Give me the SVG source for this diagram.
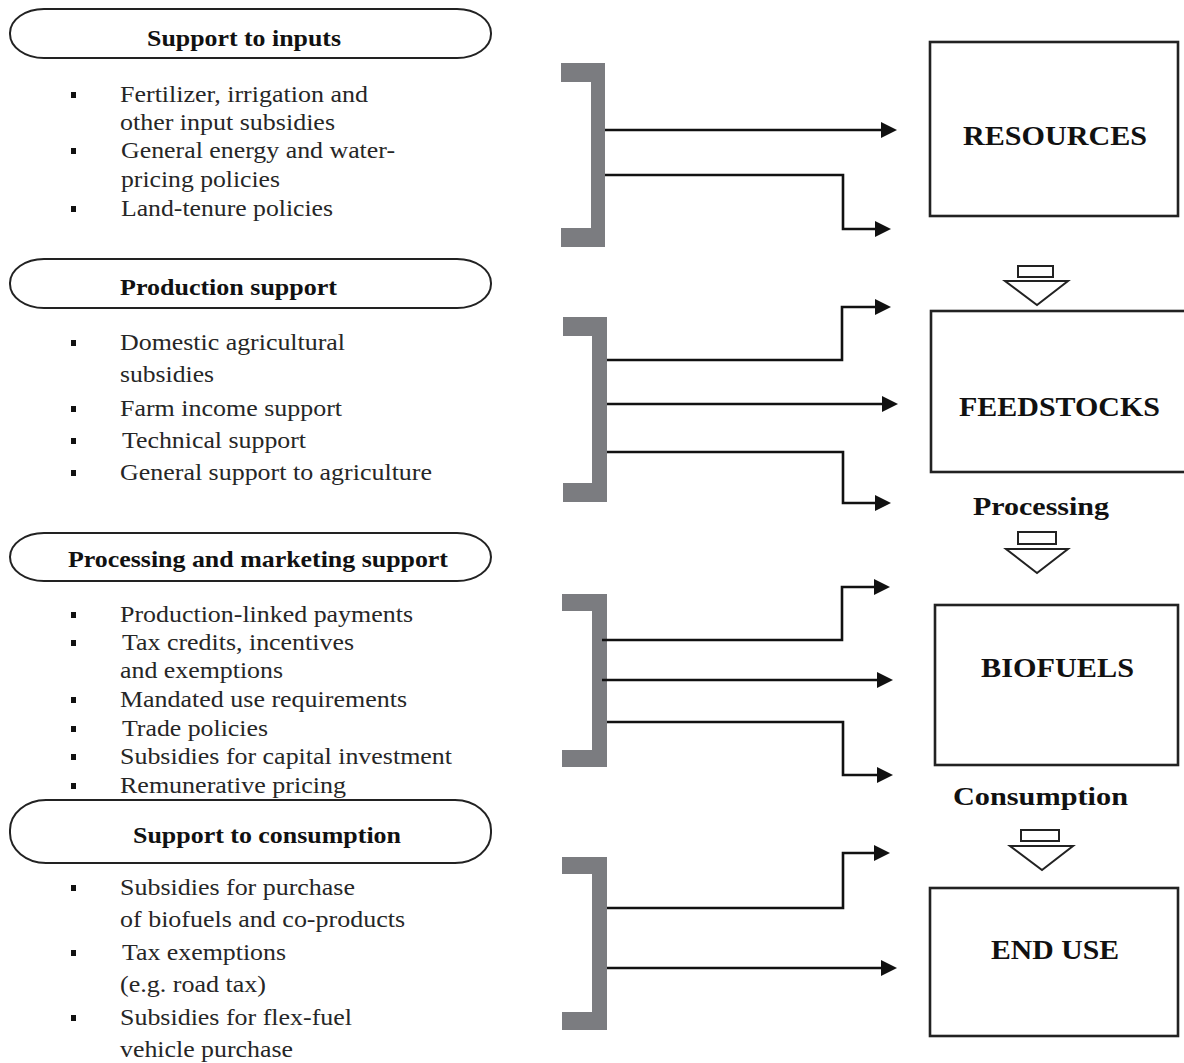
<svg xmlns="http://www.w3.org/2000/svg" width="1184" height="1063" viewBox="0 0 1184 1063">
<defs>
<marker id="ah" viewBox="0 0 16 16" refX="6" refY="8" markerWidth="16" markerHeight="16" markerUnits="userSpaceOnUse" orient="auto">
<path d="M0,0 L16,8 L0,16 Z" fill="#111"/>
</marker>
</defs>
<style>
.pill{fill:#fff;stroke:#222;stroke-width:2}
.head{font-family:"Liberation Serif",Tinos,"Times New Roman",Times,serif;font-weight:bold;font-size:24px;fill:#111}
.item{font-family:"Liberation Serif",Tinos,"Times New Roman",Times,serif;font-size:23px;fill:#262626}
.bul{fill:#111}
.brk{fill:#7b7c80}
.conn{fill:none;stroke:#111;stroke-width:2.6;marker-end:url(#ah)}
.box{fill:#fff;stroke:#222;stroke-width:2.6}
.btxt{font-family:"Liberation Serif",Tinos,"Times New Roman",Times,serif;font-weight:bold;font-size:27px;fill:#111}
.sym{fill:#fff;stroke:#222;stroke-width:2}
.lbl{font-family:"Liberation Serif",Tinos,"Times New Roman",Times,serif;font-weight:bold;font-size:26px;fill:#111}
</style>
<rect width="1184" height="1063" fill="#fff"/>

<g id="support-inputs">
<rect class="pill" x="10" y="9" width="481" height="49" rx="34" ry="24"/>
<text class="head" x="147" y="46" textLength="194" lengthAdjust="spacingAndGlyphs">Support to inputs</text>
<rect class="bul" x="71" y="92" width="5" height="6"/>
<rect class="bul" x="71" y="148" width="5" height="6"/>
<rect class="bul" x="71" y="206" width="5" height="6"/>
<text class="item" x="120" y="102" textLength="248" lengthAdjust="spacingAndGlyphs">Fertilizer, irrigation and</text>
<text class="item" x="120" y="130" textLength="215" lengthAdjust="spacingAndGlyphs">other input subsidies</text>
<text class="item" x="121" y="158" textLength="274" lengthAdjust="spacingAndGlyphs">General energy and water-</text>
<text class="item" x="121" y="187" textLength="159" lengthAdjust="spacingAndGlyphs">pricing policies</text>
<text class="item" x="121" y="216" textLength="212" lengthAdjust="spacingAndGlyphs">Land-tenure policies</text>
</g>

<g id="production-support">
<rect class="pill" x="10" y="259" width="481" height="49" rx="34" ry="24"/>
<text class="head" x="120" y="295" textLength="217" lengthAdjust="spacingAndGlyphs">Production support</text>
<rect class="bul" x="71" y="340" width="5" height="6"/>
<rect class="bul" x="71" y="406" width="5" height="6"/>
<rect class="bul" x="71" y="438" width="5" height="6"/>
<rect class="bul" x="71" y="470" width="5" height="6"/>
<text class="item" x="120" y="350" textLength="225" lengthAdjust="spacingAndGlyphs">Domestic agricultural</text>
<text class="item" x="120" y="382" textLength="94" lengthAdjust="spacingAndGlyphs">subsidies</text>
<text class="item" x="120" y="416" textLength="222" lengthAdjust="spacingAndGlyphs">Farm income support</text>
<text class="item" x="122" y="448" textLength="184" lengthAdjust="spacingAndGlyphs">Technical support</text>
<text class="item" x="120" y="480" textLength="312" lengthAdjust="spacingAndGlyphs">General support to agriculture</text>
</g>

<g id="processing-marketing">
<rect class="pill" x="10" y="533" width="481" height="48" rx="34" ry="24"/>
<text class="head" x="68" y="567" textLength="380" lengthAdjust="spacingAndGlyphs">Processing and marketing support</text>
<rect class="bul" x="71" y="612" width="5" height="6"/>
<rect class="bul" x="71" y="640" width="5" height="6"/>
<rect class="bul" x="71" y="697" width="5" height="6"/>
<rect class="bul" x="71" y="726" width="5" height="6"/>
<rect class="bul" x="71" y="754" width="5" height="6"/>
<rect class="bul" x="71" y="783" width="5" height="6"/>
<text class="item" x="120" y="622" textLength="293" lengthAdjust="spacingAndGlyphs">Production-linked payments</text>
<text class="item" x="122" y="650" textLength="232" lengthAdjust="spacingAndGlyphs">Tax credits, incentives</text>
<text class="item" x="120" y="678" textLength="163" lengthAdjust="spacingAndGlyphs">and exemptions</text>
<text class="item" x="120" y="707" textLength="287" lengthAdjust="spacingAndGlyphs">Mandated use requirements</text>
<text class="item" x="122" y="736" textLength="146" lengthAdjust="spacingAndGlyphs">Trade policies</text>
<text class="item" x="120" y="764" textLength="332" lengthAdjust="spacingAndGlyphs">Subsidies for capital investment</text>
<text class="item" x="120" y="793" textLength="226" lengthAdjust="spacingAndGlyphs">Remunerative pricing</text>
</g>

<g id="support-consumption">
<rect class="pill" x="10" y="800" width="481" height="63" rx="36" ry="30"/>
<text class="head" x="133" y="843" textLength="268" lengthAdjust="spacingAndGlyphs">Support to consumption</text>
<rect class="bul" x="71" y="885" width="5" height="6"/>
<rect class="bul" x="71" y="950" width="5" height="6"/>
<rect class="bul" x="71" y="1015" width="5" height="6"/>
<text class="item" x="120" y="895" textLength="235" lengthAdjust="spacingAndGlyphs">Subsidies for purchase</text>
<text class="item" x="120" y="927" textLength="285" lengthAdjust="spacingAndGlyphs">of biofuels and co-products</text>
<text class="item" x="122" y="960" textLength="164" lengthAdjust="spacingAndGlyphs">Tax exemptions</text>
<text class="item" x="120" y="992" textLength="146" lengthAdjust="spacingAndGlyphs">(e.g. road tax)</text>
<text class="item" x="120" y="1025" textLength="232" lengthAdjust="spacingAndGlyphs">Subsidies for flex-fuel</text>
<text class="item" x="120" y="1057" textLength="173" lengthAdjust="spacingAndGlyphs">vehicle purchase</text>
</g>

<g id="brackets">
<path class="brk" d="M561,63 H605 V247 H561 V228 H591 V82 H561 Z"/>
<path class="brk" d="M563,317 H607 V502 H563 V483 H592 V336 H563 Z"/>
<path class="brk" d="M562,594 H607 V767 H562 V750 H592 V611 H562 Z"/>
<path class="brk" d="M562,857 H607 V1030 H562 V1012 H592 V874 H562 Z"/>
</g>

<g id="connectors">
<path class="conn" d="M605,130 H887"/>
<path class="conn" d="M605,175 H843 V229 H881"/>
<path class="conn" d="M607,360 H842 V307 H881"/>
<path class="conn" d="M607,404 H888"/>
<path class="conn" d="M607,452 H843 V503 H881"/>
<path class="conn" d="M602,640 H842 V587 H880"/>
<path class="conn" d="M602,680 H883"/>
<path class="conn" d="M607,722 H843 V775 H883"/>
<path class="conn" d="M607,908 H843 V853 H880"/>
<path class="conn" d="M607,968 H887"/>
</g>

<g id="resources">
<rect class="box" x="930" y="42" width="248" height="174"/>
<text class="btxt" x="963" y="145" textLength="184" lengthAdjust="spacingAndGlyphs">RESOURCES</text>
</g>

<g id="flow1">
<rect class="sym" x="1018" y="266" width="35" height="11"/>
<path class="sym" d="M1005,281 H1068 L1037,305 Z"/>
</g>

<g id="feedstocks">
<rect class="box" x="931" y="311" width="260" height="161"/>
<text class="btxt" x="959" y="416" textLength="201" lengthAdjust="spacingAndGlyphs">FEEDSTOCKS</text>
</g>

<g id="processing">
<text class="lbl" x="973" y="515" textLength="136" lengthAdjust="spacingAndGlyphs">Processing</text>
<rect class="sym" x="1018" y="532" width="38" height="12"/>
<path class="sym" d="M1006,549 H1068 L1037,573 Z"/>
</g>

<g id="biofuels">
<rect class="box" x="935" y="605" width="243" height="160"/>
<text class="btxt" x="981" y="677" textLength="153" lengthAdjust="spacingAndGlyphs">BIOFUELS</text>
</g>

<g id="consumption">
<text class="lbl" x="953" y="805" textLength="175" lengthAdjust="spacingAndGlyphs">Consumption</text>
<rect class="sym" x="1021" y="830" width="38" height="11"/>
<path class="sym" d="M1010,846 H1073 L1042,870 Z"/>
</g>

<g id="end-use">
<rect class="box" x="930" y="888" width="248" height="148"/>
<text class="btxt" x="991" y="959" textLength="128" lengthAdjust="spacingAndGlyphs">END USE</text>
</g>
</svg>
